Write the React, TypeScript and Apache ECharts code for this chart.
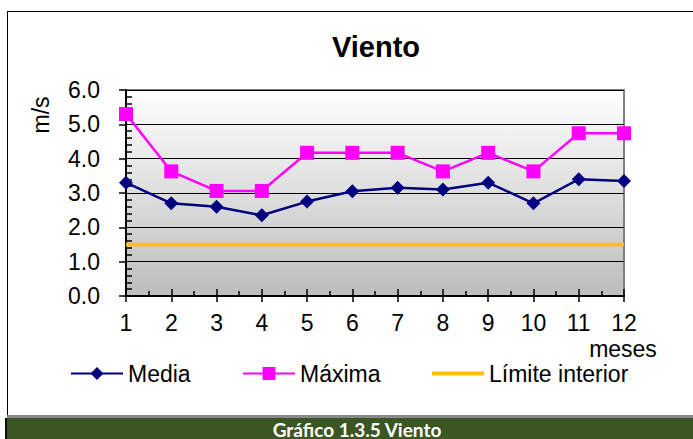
import React, { useEffect, useRef } from "react";
import * as echarts from "echarts";

const months = [1, 2, 3, 4, 5, 6, 7, 8, 9, 10, 11, 12];
const media = [3.3, 2.7, 2.6, 2.35, 2.75, 3.05, 3.15, 3.1, 3.3, 2.7, 3.4, 3.35];
const maxima = [5.3, 3.63, 3.06, 3.06, 4.17, 4.17, 4.17, 3.63, 4.17, 3.63, 4.74, 4.74];
const limite = [1.5, 1.5, 1.5, 1.5, 1.5, 1.5, 1.5, 1.5, 1.5, 1.5, 1.5, 1.5];
const seriesNames = ["Media", "Máxima", "Límite interior"];

const FONT = "'Liberation Sans', Arial, sans-serif";
const FS = 23;

export default function App() {
  const ref = useRef<HTMLDivElement>(null);
  useEffect(() => {
    if (!ref.current) return;
    const chart = echarts.init(ref.current, undefined, { renderer: "svg" });
    const pairs = (arr: number[]) => months.map((m, i) => [m, arr[i]]);
    const legendText = { fontSize: FS, color: "#000", fontFamily: FONT };
    const legendBase = { top: 362, itemWidth: 52, itemHeight: 16, itemGap: 0, padding: 0, textStyle: legendText };
    chart.setOption({
      animation: false,
      backgroundColor: "#fff",
      grid: {
        left: 126,
        right: 69,
        top: 90,
        bottom: 143,
        show: true,
        borderColor: "#808080",
        borderWidth: 2,
        backgroundColor: new echarts.graphic.LinearGradient(0, 0, 0, 1, [
          { offset: 0, color: "#ffffff" },
          { offset: 1, color: "#bdbdbd" },
        ]),
      },
      legend: [
        { ...legendBase, data: [seriesNames[0]], left: 70 },
        { ...legendBase, data: [seriesNames[1]], left: 242 },
        {
          ...legendBase,
          data: [{ name: seriesNames[2], icon: "rect" }],
          left: 432,
          itemHeight: 4,
        },
      ],
      xAxis: [
        {
          type: "value",
          min: 1,
          max: 12,
          interval: 1,
          position: "bottom",
          axisLine: { show: true, onZero: false, lineStyle: { color: "#000", width: 2 } },
          axisTick: { show: true, length: 6, lineStyle: { color: "#000", width: 1.5 } },
          axisLabel: { fontSize: FS, color: "#000", fontFamily: FONT, margin: 15 },
          splitLine: { show: false },
        },
        {
          type: "value",
          min: 1,
          max: 12,
          interval: 1,
          position: "bottom",
          axisLine: { show: false, onZero: false },
          axisTick: { show: true, inside: true, length: 7, lineStyle: { color: "#000", width: 1.5 } },
          minorTick: { show: true, splitNumber: 2, length: 5, lineStyle: { color: "#000", width: 1.5 } },
          axisLabel: { show: false },
          splitLine: { show: false },
        },
      ],
      yAxis: [
        {
          type: "value",
          min: 0,
          max: 6,
          interval: 1,
          position: "left",
          axisLine: { show: true, lineStyle: { color: "#000", width: 2 } },
          axisTick: { show: true, length: 7, lineStyle: { color: "#000", width: 1.5 } },
          axisLabel: {
            fontSize: FS,
            color: "#000",
            fontFamily: FONT,
            margin: 26,
            formatter: (v: number) => v.toFixed(1),
          },
          splitLine: { show: true, lineStyle: { color: "#000", width: 1 } },
        },
        {
          type: "value",
          min: 0,
          max: 6,
          interval: 1,
          position: "left",
          axisLine: { show: false },
          axisTick: { show: false, inside: true },
          minorTick: { show: true, splitNumber: 5, length: 6, lineStyle: { color: "#000", width: 1.5 } },
          axisLabel: { show: false },
          splitLine: { show: false },
        },
      ],
      series: [
        {
          name: seriesNames[2],
          type: "line",
          data: pairs(limite),
          symbol: "none",
          lineStyle: { color: "#ffc000", width: 3.5 },
          itemStyle: { color: "#ffc000" },
          z: 2,
        },
        {
          name: seriesNames[0],
          type: "line",
          data: pairs(media),
          symbol: "diamond",
          symbolSize: 14,
          lineStyle: { color: "#000080", width: 2.5 },
          itemStyle: { color: "#000080" },
          z: 3,
        },
        {
          name: seriesNames[1],
          type: "line",
          data: pairs(maxima),
          symbol: "rect",
          symbolSize: 14,
          lineStyle: { color: "#ff00ff", width: 2.5 },
          itemStyle: { color: "#ff00ff" },
          z: 4,
        },
      ],
      graphic: [
        { type: "line", shape: { x1: 7, y1: 11.5, x2: 693, y2: 11.5 }, style: { stroke: "#000", lineWidth: 1 } },
        { type: "line", shape: { x1: 7.5, y1: 11, x2: 7.5, y2: 416 }, style: { stroke: "#000", lineWidth: 1 } },
        { type: "rect", shape: { x: 7, y: 415, width: 686, height: 3 }, style: { fill: "#8a8a8a" } },
        { type: "rect", shape: { x: 5, y: 418, width: 688, height: 21 }, style: { fill: "#3b5623" } },
        { type: "rect", shape: { x: 5, y: 418, width: 2, height: 21 }, style: { fill: "#111" } },
        {
          type: "text",
          x: 357,
          y: 429,
          style: {
            text: "Gráfico 1.3.5 Viento",
            fill: "#fff",
            font: "bold 19px Lato, 'Open Sans', sans-serif",
            align: "center",
            verticalAlign: "middle",
          },
        },
        {
          type: "text",
          x: 376,
          y: 47,
          style: {
            text: "Viento",
            fill: "#000",
            font: "bold 29px 'Liberation Sans', Arial, sans-serif",
            align: "center",
            verticalAlign: "middle",
          },
        },
        {
          type: "text",
          x: 41,
          y: 115,
          rotation: Math.PI / 2,
          style: {
            text: "m/s",
            fill: "#000",
            font: "23px 'Liberation Sans', Arial, sans-serif",
            align: "center",
            verticalAlign: "middle",
          },
        },
        {
          type: "text",
          x: 623,
          y: 349,
          style: {
            text: "meses",
            fill: "#000",
            font: "23px 'Liberation Sans', Arial, sans-serif",
            align: "center",
            verticalAlign: "middle",
          },
        },
      ],
    });
    return () => chart.dispose();
  }, []);
  return (
    <div
      ref={ref}
      style={{ width: 693, height: 439, position: "absolute", left: 0, top: 0 }}
    />
  );
}
